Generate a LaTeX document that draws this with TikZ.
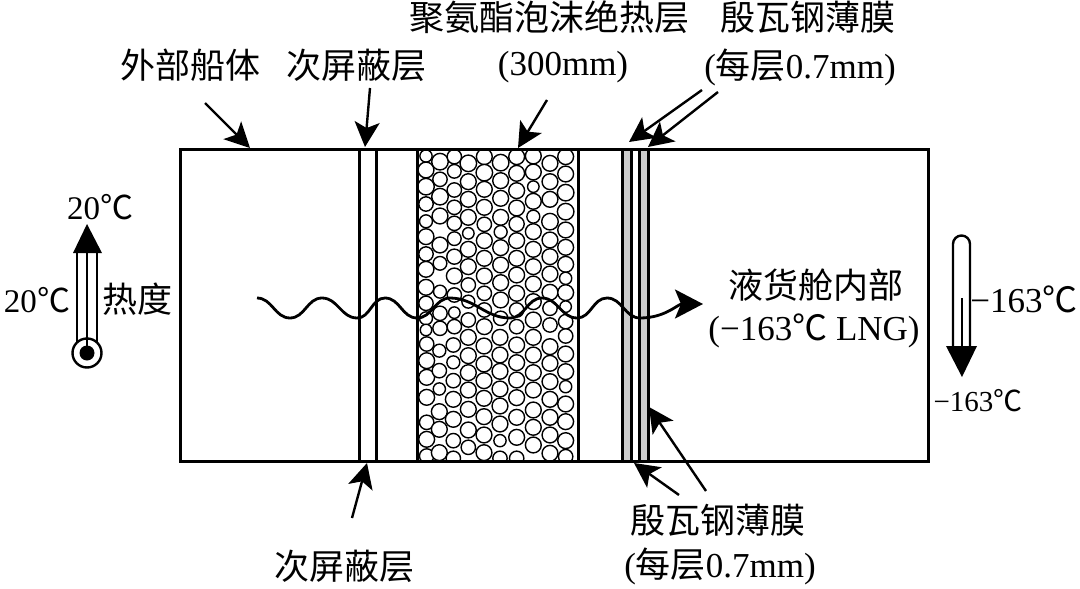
\documentclass[tikz,border=0pt]{standalone}
\usepackage{fontspec}
\setmainfont{Liberation Serif}
\newfontfamily\cjk{Noto Sans CJK SC}
\usetikzlibrary{arrows.meta}
\newcommand{\dgc}{{\cjk ℃}}

\begin{document}
\begin{tikzpicture}[x=1pt,y=-1pt,every path/.style={>={Stealth[length=25pt,width=25pt,inset=6pt]}},
  lbl/.style={inner sep=0pt,font=\fontsize{35}{40}\selectfont},
  temp/.style={inner sep=0pt,font=\fontsize{33}{38}\selectfont},
  wall/.style={line width=3pt},
  ptr/.style={->,line width=2.4pt},
  bub/.style={line width=1.4pt,fill=white}]
\useasboundingbox (0,0) rectangle (1080,589);
% foam bubbles
\fill[white] (417,149) rectangle (578,461);
\begin{scope}
\clip (417,149) rectangle (578,461);
\begin{scope}[shift={(400,130)},x=0.3333pt,y=-0.3333pt]
\foreach \x/\yy in {78/{78/17,120/22,170/23,222/20,274/18,320/22,372/20,418/22,472/22,520/20,565/18,600/16},
    120/{95/23,148/20,200/23,258/22,345/22,400/19,485/18,550/20,595/20},
    163/{80/20,124/19,180/20,232/20,280/20,326/19,380/21,438/22,495/20,548/16,590/20},
    205/{100/23,155/22,208/22,262/22,310/16,358/22,410/22,465/20,515/18,570/20},
    253/{80/22,128/23,178/22,232/22,283/20,332/22,385/22,438/22,490/20,540/20,590/22},
    302/{98/23,152/22,205/22,262/22,306/18,353/22,405/22,458/22,510/22,565/20},
    350/{80/22,130/22,182/22,234/22,282/21,332/22,385/22,435/22,490/22,540/20,590/20},
    400/{78/22,126/22,170/16,214/22,260/18,305/22,358/22,410/22,462/22,515/22,570/22},
    450/{100/22,155/22,208/22,275/23,330/22,380/22,432/22,487/22,535/20,585/20},
    497/{80/22,132/22,188/23,245/23,300/22,352/22,403/22,445/17,488/22,530/16,575/20}}
  \foreach \y/\r in \yy
    \draw[bub] (\x,\y) circle ({1.08*\r});
\end{scope}
\begin{scope}[shift={(400,330)},x=0.3333pt,y=-0.3333pt]
\foreach \x/\yy in {80/{42/20,92/22,142/22,202/22,277/20,328/22,378/20},
    118/{62/18,122/20,177/17,245/22,298/22,368/22},
    160/{45/20,97/18,152/20,208/22,268/22,332/20,385/20},
    205/{22/22,77/22,128/22,180/22,238/22,300/22,352/20},
    252/{48/22,102/22,152/22,205/22,260/22,315/22,368/22},
    300/{22/22,75/22,124/22,177/22,228/22,282/22,332/17,385/20},
    350/{45/22,98/22,150/22,203/22,262/22,322/22,385/20},
    400/{22/22,75/22,128/22,180/22,240/22,292/22,345/22},
    450/{50/22,100/22,155/22,208/22,262/22,315/22,370/22},
    497/{18/20,72/22,125/22,170/17,222/22,275/22,332/22,380/20}}
  \foreach \y/\r in \yy
    \draw[bub] (\x,\y) circle ({1.08*\r});
\end{scope}
\end{scope}
% layers
\fill[black!20] (622,149) rectangle (631,461);
\fill[black!20] (639,149) rectangle (648,461);
\draw[wall] (180,149) rectangle (928,461);
\foreach \x in {359,376,417,578,622,631,639,648}
  \draw[wall] (\x,149) -- (\x,461);
% labels
\node[lbl] (hull)  at (190,65) {\cjk 外部船体};
\node[lbl] (barT)  at (356,65) {\cjk 次屏蔽层};
\node[lbl] (foam)  at (549,17) {\cjk 聚氨酯泡沫绝热层};
\node[lbl] (foamb) at (563,67) {(300mm)};
\node[lbl] (invT)  at (808,17) {\cjk 殷瓦钢薄膜};
\node[lbl] (invTb) at (800,67) {({\cjk 每层}0.7mm)};
\node[lbl] (barB)  at (344,566) {\cjk 次屏蔽层};
\node[lbl] (invB)  at (718,520) {\cjk 殷瓦钢薄膜};
\node[lbl] (invBb) at (720,566) {({\cjk 每层}0.7mm)};
\node[lbl] (tank)  at (816,285) {\cjk 液货舱内部};
\node[lbl] (tankb) at (814,331) {(−163\dgc{} LNG)};
\node[temp] (hotT)  at (100,207) {20\dgc};
\node[temp] (hotL)  at (37,300) {20\dgc};
\node[lbl] (heat)  at (137,299) {\cjk 热度};
\node[lbl] (coldR) at (1024,299) {−163\dgc};
\node[temp,font=\fontsize{29}{34}\selectfont] (coldB) at (978,401) {−163\dgc};
% pointers
\coordinate (p1) at (250,148);
\coordinate (p2) at (365,147);
\coordinate (p3) at (518,148);
\coordinate (p4) at (629,142);
\coordinate (p5) at (648,147);
\coordinate (p6) at (367,463);
\coordinate (p7) at (634,463);
\coordinate (p8) at (649,407);
\draw[ptr] (205,103) -- (p1);
\draw[ptr] (370,88) -- (p2);
\draw[ptr] (547,100) -- (p3);
\draw[ptr] (702,90) -- (p4);
\draw[ptr] (718,92) -- (p5);
\draw[ptr] (352,518) -- (p6);
\draw[ptr] (679,495) -- (p7);
\draw[ptr] (706,491) -- (p8);
% heat flow
\coordinate (w0) at (257,298);
\coordinate (w1) at (703,304);
\draw[line width=2.8pt,->,>={Stealth[length=28pt,width=29pt,inset=6pt]}] (w0)
  to[out=0,in=180] (290,318) to[out=0,in=180] (322,298)
  to[out=0,in=180] (357,318) to[out=0,in=180] (385,298)
  to[out=0,in=180] (417,318) to[out=0,in=180] (450,298)
  to[out=0,in=180] (510,318) to[out=0,in=180] (542,298)
  to[out=0,in=180] (577,318) to[out=0,in=180] (607,298)
  to[out=0,in=180] (640,318) to[out=0,in=180] (w1);
% hot side thermometer
\draw[line width=2.4pt] (87,353) circle (14.5);
\fill (87,353) circle (7.5);
\draw[line width=2.4pt] (77,343) -- (77,250);
\draw[line width=2.4pt] (97,343) -- (97,250);
\draw[line width=2.4pt] (87,353) -- (87,250);
\fill (87,224) -- (102,253) -- (73,253) -- cycle;
% cold side thermometer
\draw[line width=2.4pt] (953,348) -- (953,244) arc[start angle=180,end angle=360,radius=8.5] -- (970,348);
\draw[line width=2.4pt] (962,298) -- (962,348);
\fill (962,377) -- (977,346) -- (946,346) -- cycle;
\end{tikzpicture}
\end{document}
